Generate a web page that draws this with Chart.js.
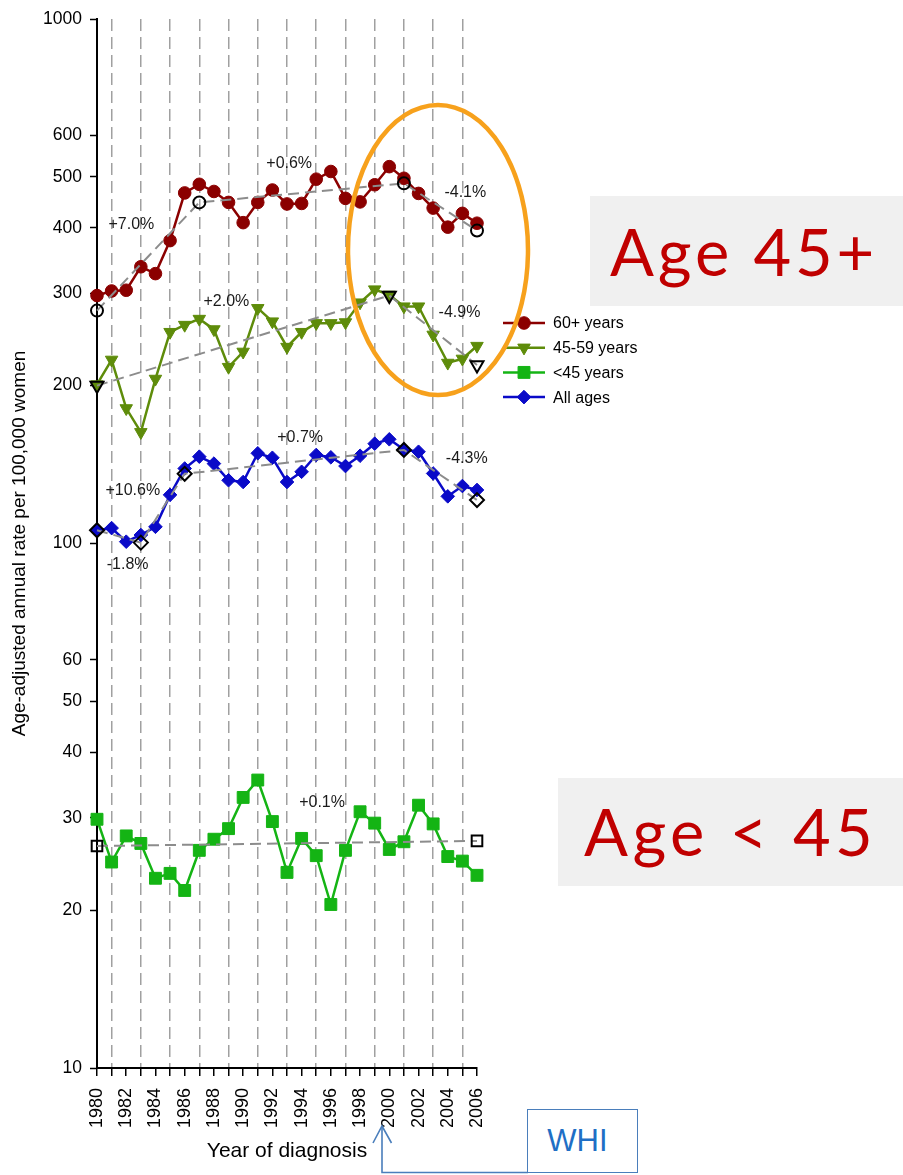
<!DOCTYPE html>
<html>
<head>
<meta charset="utf-8">
<title>Breast cancer incidence by age group, 1980-2006</title>
<script src="https://cdn.jsdelivr.net/npm/chart.js@4.4.1/dist/chart.umd.min.js"></script>
<style>
  html, body { margin: 0; padding: 0; background: #fff; }
  #wrap { position: relative; width: 903px; height: 1175px; overflow: hidden; }
  #c { position: absolute; left: 0; top: 0; }
  #marks { position: absolute; left: 0; top: 0; pointer-events: none; }
  .tag {
    position: absolute; background: #f0f0f0; color: #c00000;
    font-family: Lato, "Noto Sans", sans-serif; font-size: 65px; line-height: 1;
    white-space: nowrap; box-sizing: border-box;
  }
  .tag span { position: absolute; }
  #whi {
    position: absolute; left: 527px; top: 1109px; width: 111px; height: 64px;
    box-sizing: border-box; border: 1.5px solid #4a7ebb; background: #fff;
    color: #1f6fc5; font-family: "Liberation Sans", Arial, sans-serif; font-size: 31px;
    display: flex; align-items: center; justify-content: center; padding-right: 10px;
  }
</style>
</head>
<body>
<div id="wrap">
  <canvas id="c" width="903" height="1175"></canvas>
  <svg id="marks" width="903" height="1175">
    <ellipse cx="438" cy="250" rx="90" ry="145" fill="none" stroke="#f7a11c" stroke-width="4.5"/>
    <polyline points="528,1172.5 382,1172.5 382,1126" fill="none" stroke="#4a7ebb" stroke-width="1.6"/>
    <polyline points="373,1143 382,1126 391.5,1143" fill="none" stroke="#4a7ebb" stroke-width="1.6"/>
  </svg>
  <div class="tag" style="left:590px;top:196px;width:313px;height:110px;"><span style="left:20px;top:23px;letter-spacing:3.8px;">Age 45+</span></div>
  <div class="tag" style="left:558px;top:778px;width:345px;height:108px;"><span style="left:26px;top:21px;letter-spacing:4.4px;">Age &lt; 45</span></div>
  <div id="whi">WHI</div>
</div>
<script>
// Year of diagnosis
const years = [1980, 1981, 1982, 1983, 1984, 1985, 1986, 1987, 1988, 1989,
               1990, 1991, 1992, 1993, 1994, 1995, 1996, 1997, 1998, 1999,
               2000, 2001, 2002, 2003, 2004, 2005, 2006];

// Age-adjusted annual rate per 100,000 women
const rate60plus   = [297, 303, 304, 337, 327, 378, 466, 484, 469, 447,
                      409, 447, 472, 444, 445, 495, 512, 455, 448, 483,
                      523, 497, 465, 436, 401, 426, 408];
const rate45to59   = [201, 224, 181, 163, 206, 253, 261, 268, 256, 217,
                      232, 281, 265, 237, 253, 263, 263, 264, 288, 305,
                      298, 283, 283, 250, 221, 225, 238];
const rateUnder45  = [29.8, 24.7, 27.7, 26.8, 23.0, 23.5, 21.8, 26.0, 27.3, 28.6,
                      32.8, 35.4, 29.5, 23.6, 27.4, 25.4, 20.5, 26.0, 30.8, 29.3,
                      26.1, 27.0, 31.7, 29.2, 25.3, 24.8, 23.3];
const rateAllAges  = [106, 107, 100.8, 103.8, 107.6, 123.8, 139, 146.4, 142, 132,
                      131, 148.6, 145.7, 131, 137, 147.5, 146, 140.5, 147, 155,
                      158, 151, 149.6, 136, 123, 128.7, 126.5];

// Joinpoint trend fits: joinpoint years and fitted rates
const joins60plus   = [1980, 1987, 2001, 2006];
const fit60plus     = [278, 447, 486, 395];
const joins45to59   = [1980, 2000, 2006];
const fit45to59     = [200, 297, 219];
const joinsAllAges  = [1980, 1983, 1986, 2001, 2006];
const fitAllAges    = [106, 100.4, 135.8, 150.8, 121];
const joinsUnder45  = [1980, 2006];
const fitUnder45    = [26.5, 27.1];

// Annual percent change of each trend segment, placed at (year, rate)
const apcText   = ['+7.0%', '+0.6%', '-4.1%', '+2.0%', '-4.9%', '+10.6%', '-1.8%', '+0.7%', '-4.3%', '+0.1%'];
const apcYear   = [1982.35, 1993.15, 2005.2, 1988.85, 2004.8, 1982.45, 1982.1, 1993.9, 2005.3, 1995.4];
const apcRate   = [406, 531, 466, 289, 275, 126, 91, 159, 145, 32];

// Y-axis tick values
const yTicks = [10, 20, 30, 40, 50, 60, 100, 200, 300, 400, 500, 600, 1000];

const seriesNames = ['60+ years', '45-59 years', '<45 years', 'All ages'];

const pairs = (xs, ys) => xs.map((x, i) => ({ x: x, y: ys[i] }));

Chart.defaults.font.family = "'Liberation Sans', Arial, Helvetica, sans-serif";
Chart.defaults.color = '#000';

const trendStyle = {
  borderColor: '#8c8c8c', borderWidth: 2, borderDash: [11, 6],
  pointBackgroundColor: 'rgba(0,0,0,0)', pointBorderColor: '#000', pointBorderWidth: 2,
  fill: false, tension: 0, clip: false
};

const datasets = [
  Object.assign({ label: 'fit 60+', data: pairs(joins60plus, fit60plus), pointStyle: 'circle', pointRadius: 6 }, trendStyle),
  Object.assign({ label: 'fit 45-59', data: pairs(joins45to59, fit45to59), pointStyle: 'triangle', pointRotation: 180, pointRadius: 7.5 }, trendStyle),
  Object.assign({ label: 'fit <45', data: pairs(joinsUnder45, fitUnder45), pointStyle: 'rect', pointRadius: 7.5 }, trendStyle),
  Object.assign({ label: 'fit all', data: pairs(joinsAllAges, fitAllAges), pointStyle: 'rectRot', pointRadius: 7 }, trendStyle),
  { label: seriesNames[0], data: pairs(years, rate60plus), borderColor: '#8b0000', backgroundColor: '#8b0000',
    pointBackgroundColor: '#8b0000', pointBorderColor: '#8b0000', borderWidth: 2.5,
    pointStyle: 'circle', pointRadius: 6.3, pointBorderWidth: 1, tension: 0, clip: false },
  { label: seriesNames[1], data: pairs(years, rate45to59), borderColor: '#5e8c0a', backgroundColor: '#5e8c0a',
    pointBackgroundColor: '#5e8c0a', pointBorderColor: '#5e8c0a', borderWidth: 2.5,
    pointStyle: 'triangle', pointRotation: 180, pointRadius: 7.2, pointBorderWidth: 1, tension: 0, clip: false },
  { label: seriesNames[2], data: pairs(years, rateUnder45), borderColor: '#14b414', backgroundColor: '#14b414',
    pointBackgroundColor: '#14b414', pointBorderColor: '#14b414', borderWidth: 2.5,
    pointStyle: 'rect', pointRadius: 8.4, pointBorderWidth: 1, tension: 0, clip: false },
  { label: seriesNames[3], data: pairs(years, rateAllAges), borderColor: '#0a0ac8', backgroundColor: '#0a0ac8',
    pointBackgroundColor: '#0a0ac8', pointBorderColor: '#0a0ac8', borderWidth: 2.5,
    pointStyle: 'rectRot', pointRadius: 6.8, pointBorderWidth: 1, tension: 0, clip: false }
];

// Legend drawn beside the plot, one row per age group
const sideLegend = {
  id: 'sideLegend',
  afterDraw(chart) {
    const ctx = chart.ctx;
    const x0 = 503, x1 = 545, xText = 553, yTop = 323, step = 24.7;
    ctx.save();
    for (let k = 0; k < 4; k++) {
      const ds = chart.data.datasets[4 + k];
      const y = yTop + k * step;
      ctx.strokeStyle = ds.borderColor;
      ctx.lineWidth = ds.borderWidth;
      ctx.setLineDash([]);
      ctx.beginPath(); ctx.moveTo(x0, y); ctx.lineTo(x1, y); ctx.stroke();
      ctx.fillStyle = ds.pointBackgroundColor;
      ctx.strokeStyle = ds.pointBorderColor;
      ctx.lineWidth = 1;
      Chart.helpers.drawPoint(ctx, {
        pointStyle: ds.pointStyle, rotation: ds.pointRotation || 0,
        radius: ds.pointRadius, borderWidth: 1
      }, (x0 + x1) / 2, y);
      ctx.fillStyle = '#000';
      ctx.font = "16px 'Liberation Sans', Arial, sans-serif";
      ctx.textAlign = 'left'; ctx.textBaseline = 'middle';
      ctx.fillText(ds.label, xText, y + 1);
    }
    ctx.restore();
  }
};

// Annual percent change labels next to each trend segment
const apcLabels = {
  id: 'apcLabels',
  afterDatasetsDraw(chart) {
    const ctx = chart.ctx, xs = chart.scales.x, ys = chart.scales.y;
    ctx.save();
    ctx.fillStyle = '#1a1a1a';
    ctx.font = "16px 'Liberation Sans', Arial, sans-serif";
    ctx.textAlign = 'center'; ctx.textBaseline = 'middle';
    apcText.forEach((t, i) => ctx.fillText(t, xs.getPixelForValue(apcYear[i]), ys.getPixelForValue(apcRate[i])));
    ctx.restore();
  }
};

new Chart(document.getElementById('c'), {
  type: 'line',
  data: { datasets: datasets },
  options: {
    responsive: false, animation: false, events: [],
    layout: { padding: { top: 19, right: 426, bottom: 0, left: 0 } },
    plugins: { legend: { display: false }, tooltip: { enabled: false } },
    scales: {
      x: {
        type: 'linear', min: 1980, max: 2006,
        afterBuildTicks: s => { s.ticks = years.map(v => ({ value: v })); },
        afterFit: s => { s.height = 107; s.paddingLeft = 0; s.paddingRight = 0; },
        ticks: {
          autoSkip: false, minRotation: 90, maxRotation: 90, padding: 12,
          color: '#000', font: { size: 18 },
          callback: v => (v % 2 === 0 ? String(v) : '')
        },
        grid: {
          color: c => (c.tick && c.tick.value % 2 === 1 ? '#a0a0a0' : 'rgba(0,0,0,0)'),
          lineWidth: 1.5, drawTicks: true, tickLength: 8, tickColor: '#000', tickWidth: 1.5
        },
        border: { display: true, color: '#000', width: 2, dash: [12, 6] },
        title: { display: true, text: 'Year of diagnosis', color: '#000', font: { size: 21 }, padding: { top: 0, bottom: 11 } }
      },
      y: {
        type: 'logarithmic', min: 10, max: 1000,
        afterBuildTicks: s => { s.ticks = yTicks.map(v => ({ value: v })); },
        afterFit: s => { s.width = 97; s.paddingTop = 0; s.paddingBottom = 0; },
        ticks: { autoSkip: false, color: '#000', font: { size: 17.5 }, padding: 8, callback: v => String(v) },
        grid: { drawOnChartArea: false, drawTicks: true, tickLength: 7, tickColor: '#000', tickWidth: 1.5 },
        border: { display: true, color: '#000', width: 2 },
        title: { display: true, text: 'Age-adjusted annual rate per 100,000 women', color: '#000', font: { size: 19 }, padding: { top: 8, bottom: 0 } }
      }
    }
  },
  plugins: [sideLegend, apcLabels]
});
</script>
</body>
</html>
